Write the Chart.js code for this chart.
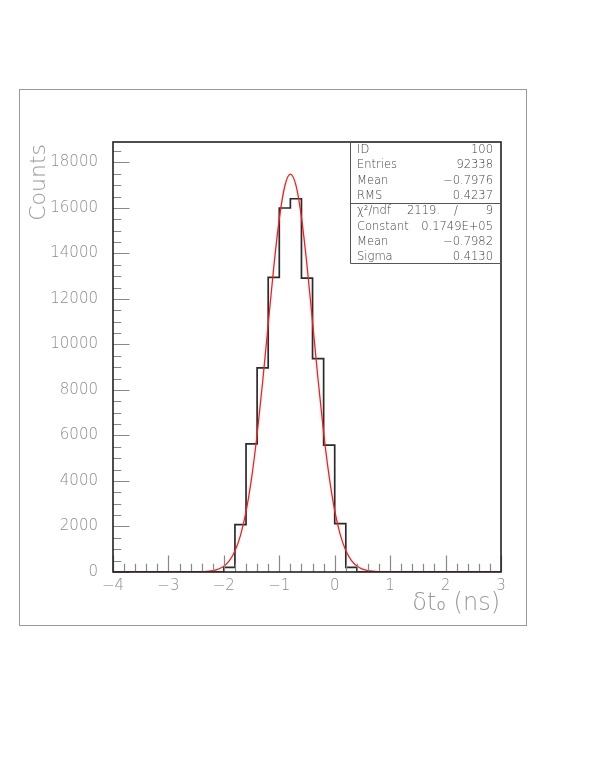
<!DOCTYPE html>
<html>
<head>
<meta charset="utf-8">
<script src="https://cdn.jsdelivr.net/npm/chart.js@4.4.0/dist/chart.umd.min.js"></script>
<style>
    body { margin: 0; background: #fff; }
    canvas { display: block; }
</style>
</head>
<body>
<canvas id="histCanvas" width="590" height="763"></canvas>
<script>
// histogram bins (lower edges, width 0.2 ns) and counts
const binEdges = [-2.0, -1.8, -1.6, -1.4, -1.2, -1.0, -0.8, -0.6, -0.4, -0.2, 0.0, 0.2];
const binCounts = [205, 2080, 5635, 8970, 12950, 16000, 16405, 12920, 9380, 5575, 2125, 205];
const binWidth = 0.2;

// red fit curve
const fitX = [-4, -2.6, -2.4, -2.2, -2.0, -1.9, -1.8, -1.7, -1.6, -1.5, -1.4, -1.3, -1.2, -1.1, -1.0, -0.9, -0.8,
    -0.7, -0.6, -0.5, -0.4, -0.3, -0.2, -0.1, 0.0, 0.1, 0.2, 0.3, 0.4, 0.5, 0.6, 0.8, 1.0, 3];
const fitY = [0, 1, 10, 55, 253, 498, 922, 1611, 2653, 4124, 6043, 8360, 10893, 13387, 15519, 16965, 17490,
    17002, 15588, 13476, 10989, 8451, 6128, 4195, 2703, 1643, 943, 510, 260, 125, 57, 10, 1, 0];

const xTicks = [-4, -3, -2, -1, 0, 1, 2, 3];
const yTicks = [0, 2000, 4000, 6000, 8000, 10000, 12000, 14000, 16000, 18000];

const statsTop = [['ID', '100'], ['Entries', '92338'], ['Mean', '\u22120.7976'], ['RMS', '0.4237']];
const statsFit = [['Constant', '0.1749E+05'], ['Mean', '\u22120.7982'], ['Sigma', '0.4130']];

const histPoints = [{ x: -4, y: 0 }];
binEdges.forEach((e, i) => histPoints.push({ x: e, y: binCounts[i] }));
histPoints.push({ x: binEdges[binEdges.length - 1] + binWidth, y: 0 });
histPoints.push({ x: 3, y: 0 });

const fitPoints = fitX.map((x, i) => ({ x: x, y: fitY[i] }));

const minus = v => (v < 0 ? '\u2212' + Math.abs(v) : String(v));
const thinFont = '"DejaVu Sans", sans-serif';

const rootStyle = {
    id: 'rootStyle',
    beforeDraw(chart) {
        const ctx = chart.ctx;
        ctx.save();
        ctx.fillStyle = '#fff';
        ctx.fillRect(0, 0, chart.width, chart.height);
        ctx.strokeStyle = '#999';
        ctx.lineWidth = 1;
        ctx.strokeRect(19.5, 89.5, 507, 536);
        ctx.restore();
    },
    afterDraw(chart) {
        const ctx = chart.ctx;
        const a = chart.chartArea;
        const xs = chart.scales.x, ys = chart.scales.y;
        ctx.save();

        // inside ticks
        ctx.strokeStyle = '#888';
        ctx.lineWidth = 1.2;
        ctx.beginPath();
        for (let v = 0; v <= ys.max; v += 500) {
            const py = Math.round(ys.getPixelForValue(v)) + 0.5;
            const len = v % 2000 === 0 ? 16.5 : 8.3;
            ctx.moveTo(a.left, py);
            ctx.lineTo(a.left + len, py);
        }
        for (let i = 0; i <= 35; i++) {
            const px = Math.round(xs.getPixelForValue(-4 + i * 0.2)) + 0.5;
            const len = i % 5 === 0 ? 16.5 : 8.3;
            ctx.moveTo(px, a.bottom);
            ctx.lineTo(px, a.bottom - len);
        }
        ctx.stroke();

        // frame
        ctx.strokeStyle = '#222';
        ctx.lineWidth = 1.6;
        ctx.strokeRect(a.left, a.top, a.right - a.left, a.bottom - a.top);

        // stats box
        const bx = 350.5, by = a.top, sep = 203.5, bb = 263.5;
        ctx.strokeStyle = '#555';
        ctx.lineWidth = 1;
        ctx.beginPath();
        ctx.moveTo(bx, by);
        ctx.lineTo(bx, bb);
        ctx.lineTo(a.right, bb);
        ctx.moveTo(bx, sep);
        ctx.lineTo(a.right, sep);
        ctx.stroke();

        ctx.fillStyle = '#444';
        ctx.font = '200 11.5px ' + thinFont;
        ctx.textBaseline = 'middle';
        const rowY = [150, 165.5, 181, 196, 211.5, 227, 242, 257];
        statsTop.forEach((r, i) => {
            ctx.textAlign = 'left';
            ctx.fillText(r[0], 357, rowY[i]);
            ctx.textAlign = 'right';
            ctx.fillText(r[1], 493, rowY[i]);
        });
        ctx.textAlign = 'left';
        ctx.fillText('\u03c7\u00b2/ndf', 357, rowY[4]);
        ctx.fillText('2119.', 407, rowY[4]);
        ctx.textAlign = 'center';
        ctx.fillText('/', 456, rowY[4]);
        ctx.textAlign = 'right';
        ctx.fillText('9', 493, rowY[4]);
        statsFit.forEach((r, i) => {
            ctx.textAlign = 'left';
            ctx.fillText(r[0], 357, rowY[5 + i]);
            ctx.textAlign = 'right';
            ctx.fillText(r[1], 493, rowY[5 + i]);
        });

        // axis titles
        ctx.fillStyle = '#999';
        ctx.font = '200 24px ' + thinFont;
        ctx.textBaseline = 'alphabetic';
        ctx.textAlign = 'right';
        ctx.fillText('\u03b4t\u2080 (ns)', 500, 610);

        ctx.font = '200 22px ' + thinFont;
        ctx.translate(45, 144);
        ctx.rotate(-Math.PI / 2);
        ctx.fillText('Counts', 0, 0);
        ctx.restore();
    }
};

const ctx = document.getElementById('histCanvas').getContext('2d');
new Chart(ctx, {
    type: 'scatter',
    data: {
        datasets: [
            {
                label: 'fit',
                data: fitPoints,
                showLine: true,
                borderColor: '#ff1a1a',
                borderWidth: 1.3,
                pointRadius: 0,
                cubicInterpolationMode: 'monotone'
            },
            {
                label: 'hist',
                data: histPoints,
                showLine: true,
                stepped: 'before',
                borderColor: '#2b2b2b',
                borderWidth: 1.7,
                pointRadius: 0
            }
        ]
    },
    options: {
        responsive: false,
        animation: false,
        layout: { padding: { left: 0, top: 142, right: 89, bottom: 161 } },
        plugins: {
            legend: { display: false },
            tooltip: { enabled: false }
        },
        scales: {
            x: {
                type: 'linear',
                min: -4,
                max: 3,
                grid: { display: false },
                border: { display: false },
                afterBuildTicks: s => { s.ticks = xTicks.map(v => ({ value: v })); },
                afterFit: s => { s.height = 30; },
                ticks: {
                    padding: -3,
                    color: '#8c8c8c',
                    font: { family: thinFont, size: 15, weight: 200 },
                    maxRotation: 0,
                    callback: v => minus(v)
                }
            },
            y: {
                type: 'linear',
                min: 0,
                max: 18900,
                grid: { display: false },
                border: { display: false },
                afterBuildTicks: s => { s.ticks = yTicks.map(v => ({ value: v })); },
                afterFit: s => { s.width = 113; },
                ticks: {
                    padding: 7,
                    color: '#8c8c8c',
                    font: { family: thinFont, size: 15, weight: 200 },
                    callback: v => String(v)
                }
            }
        }
    },
    plugins: [rootStyle]
});
</script>
</body>
</html>
